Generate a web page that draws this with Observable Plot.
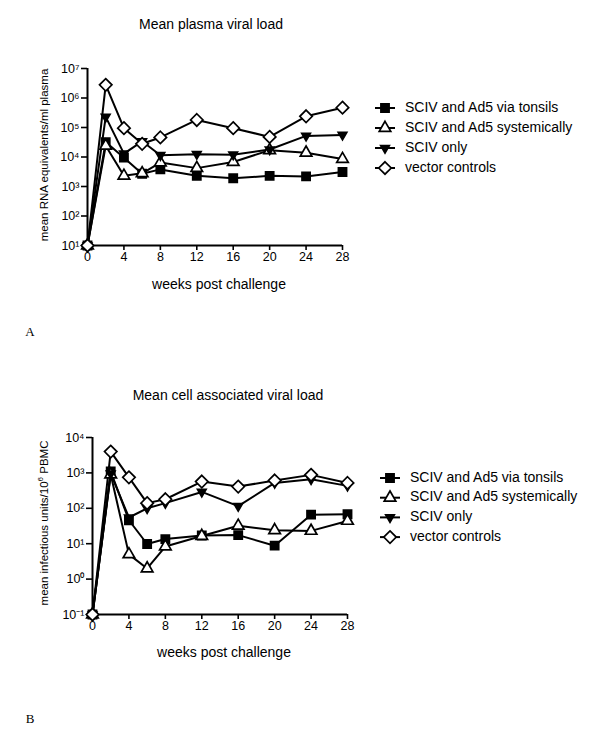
<!DOCTYPE html>
<html>
<head>
<meta charset="utf-8">
<script src="https://cdn.jsdelivr.net/npm/d3@7"></script>
<script src="https://cdn.jsdelivr.net/npm/@observablehq/plot@0.6"></script>
<style>
  html, body { margin: 0; padding: 0; background: #fff; }
  #wrap { position: relative; width: 600px; height: 738px; overflow: hidden; font-family: "Liberation Sans", Arial, sans-serif; }
  #wrap > svg, #wrap > div { position: absolute; left: 0; }
</style>
</head>
<body>
<div id="wrap"></div>
<script>
// ---- data ----
const weeks = [0, 2, 4, 6, 8, 12, 16, 20, 24, 28];
const weekTicks = [0, 4, 8, 12, 16, 20, 24, 28];
const seriesNames = ["SCIV and Ad5 via tonsils", "SCIV and Ad5 systemically", "SCIV only", "vector controls"];

// Panel A: mean plasma viral load (RNA equivalents/ml plasma)
const plasmaTonsils  = [10, 3.2e4, 9.5e3, 2.7e3, 3.8e3, 2.3e3, 1.9e3, 2.3e3, 2.2e3, 3.1e3];
const plasmaSystemic = [10, 2.4e4, 2.3e3, 2.8e3, 6.5e3, 4.2e3, 6.8e3, 1.7e4, 1.4e4, 8.5e3];
const plasmaOnly     = [10, 2.3e5, 1.3e4, 3.4e4, 1.15e4, 1.25e4, 1.2e4, 1.8e4, 5.2e4, 5.6e4];
const plasmaVector   = [10, 2.8e6, 9.5e4, 2.8e4, 4.6e4, 1.8e5, 9.5e4, 4.8e4, 2.4e5, 4.7e5];
const plasmaTicks = [1e1, 1e2, 1e3, 1e4, 1e5, 1e6, 1e7];

// Panel B: mean cell associated viral load (infectious units/10^6 PBMC)
const cellTonsils  = [0.1, 1100, 46, 9.8, 13.5, 17, 17.5, 8.8, 66, 68];
const cellSystemic = [0.1, 900, 5, 2.0, 8.3, 16.5, 32, 24, 23, 44];
const cellOnly     = [0.1, 950, 55, 100, 140, 290, 115, 520, 660, 430];
const cellVector   = [0.1, 4000, 750, 140, 180, 570, 410, 610, 880, 520];
const cellTicks = [1e-1, 1e0, 1e1, 1e2, 1e3, 1e4];

// ---- helpers ----
const supMap = {"-":"⁻","0":"⁰","1":"¹","2":"²","3":"³","4":"⁴","5":"⁵","6":"⁶","7":"⁷","8":"⁸","9":"⁹"};
const powFmt = v => "10" + String(Math.round(Math.log10(v))).split("").map(c => supMap[c]).join("");

const styles = [
  {symbol: "square",   fill: "black", r: 4.6, rotate: 0},
  {symbol: "triangle", fill: "white", r: 4.3, rotate: 0},
  {symbol: "triangle", fill: "black", r: 3.2, rotate: 180},
  {symbol: "diamond2", fill: "white", r: 5.6, rotate: 0}
];

function toRows(arrays) {
  const rows = [];
  arrays.forEach((vals, i) => vals.forEach((v, j) => rows.push({series: seriesNames[i], idx: i, week: weeks[j], value: v})));
  return rows;
}

function panel(arrays, ticks, dom, m) {
  const rows = toRows(arrays);
  const marks = [
    Plot.ruleX([0], {stroke: "black", strokeWidth: 2}),
    Plot.ruleY([dom[0]], {stroke: "black", strokeWidth: 2}),
    Plot.axisX({ticks: weekTicks, tickSize: 5, tickPadding: 2, strokeWidth: 1.6, fontSize: 12.5, tickFormat: d => d, label: null}),
    Plot.axisY({ticks: ticks, tickSize: 6, tickPadding: 2, strokeWidth: 1.6, fontSize: 12.5, tickFormat: powFmt, label: null})
  ];
  seriesNames.forEach((name, i) => {
    const data = rows.filter(d => d.idx === i);
    marks.push(Plot.line(data, {x: "week", y: "value", stroke: "black", strokeWidth: 2}));
  });
  seriesNames.forEach((name, i) => {
    const data = rows.filter(d => d.idx === i);
    const s = styles[i];
    marks.push(Plot.dot(data, {x: "week", y: "value", symbol: () => s.symbol, r: s.r, fill: s.fill, stroke: "black", strokeWidth: 1.7, rotate: s.rotate}));
  });
  return Plot.plot({
    width: 600, height: 300,
    marginLeft: m.left, marginRight: m.right, marginTop: m.top, marginBottom: m.bottom,
    style: {fontFamily: '"Liberation Sans", Arial, sans-serif', color: "black", background: "transparent", overflow: "visible"},
    x: {domain: [0, 28]},
    y: {type: "log", domain: dom},
    marks
  });
}

const wrap = document.getElementById("wrap");

const pA = panel([plasmaTonsils, plasmaSystemic, plasmaOnly, plasmaVector], plasmaTicks, [1e1, 1e7],
  {left: 87, right: 258, top: 68, bottom: 55});
pA.style.top = "0px";
wrap.appendChild(pA);

const pB = panel([cellTonsils, cellSystemic, cellOnly, cellVector], cellTicks, [1e-1, 1e4],
  {left: 92, right: 253, top: 67, bottom: 56});
pB.style.top = "370px";
wrap.appendChild(pB);

// ---- overlay: titles, axis labels, legends, panel letters ----
const ov = d3.select(wrap).append("svg")
  .attr("width", 600).attr("height", 738)
  .style("position", "absolute").style("left", "0px").style("top", "0px")
  .style("font-family", '"Liberation Sans", Arial, sans-serif');

function txt(x, y, s, size, opts = {}) {
  const t = ov.append("text").attr("x", x).attr("y", y).attr("font-size", size)
    .attr("text-anchor", opts.anchor || "middle").attr("dominant-baseline", "middle").attr("fill", "black").text(s);
  if (opts.rotate) t.attr("transform", `rotate(${opts.rotate},${x},${y})`);
  if (opts.family) t.attr("font-family", opts.family);
  return t;
}

txt(211, 25, "Mean plasma viral load", 14);
txt(228, 396, "Mean cell associated viral load", 14);
txt(219, 285, "weeks post challenge", 14);
txt(224, 653, "weeks post challenge", 14);
txt(45, 155, "mean RNA equivalents/ml plasma", 11.5, {rotate: -90});
const yl = txt(45, 523, "", 11.5, {rotate: -90});
yl.append("tspan").text("mean infectious units/10");
yl.append("tspan").attr("font-size", 8).attr("dy", -4).text("6");
yl.append("tspan").attr("dy", 4).text(" PBMC");
txt(30, 333, "A", 13, {family: '"Liberation Serif", "Times New Roman", serif'});
txt(30, 720, "B", 13, {family: '"Liberation Serif", "Times New Roman", serif'});

const symMap = {square: d3.symbolSquare, triangle: d3.symbolTriangle, diamond2: d3.symbolDiamond2};
function legend(x0, y0, dy) {
  seriesNames.forEach((name, i) => {
    const y = y0 + i * dy, s = styles[i];
    ov.append("line").attr("x1", x0 - 10).attr("x2", x0 + 10).attr("y1", y).attr("y2", y).attr("stroke", "black").attr("stroke-width", 2);
    ov.append("path").attr("d", d3.symbol(symMap[s.symbol], Math.PI * s.r * s.r)())
      .attr("transform", `translate(${x0},${y}) rotate(${s.rotate})`)
      .attr("fill", s.fill).attr("stroke", "black").attr("stroke-width", 1.7);
    txt(x0 + 20, y, name, 14, {anchor: "start"});
  });
}
legend(385, 108, 20);
legend(390, 478, 19.7);
</script>
</body>
</html>
